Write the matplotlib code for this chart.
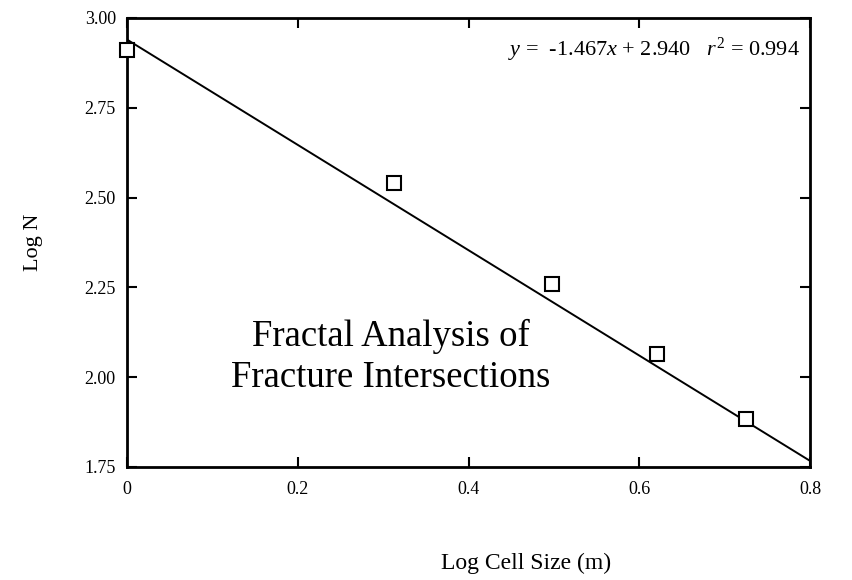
import matplotlib
matplotlib.use("Agg")
import matplotlib.pyplot as plt
import numpy as np

# Box-counting data: log cell size vs log count
log_cell_size = [0.0, 0.313, 0.498, 0.621, 0.725]
log_n = [2.91, 2.54, 2.26, 2.063, 1.883]

# Least-squares fit reported on the chart
slope = -1.467
intercept = 2.940
r_squared = 0.994

x_ticks = [0, 0.2, 0.4, 0.6, 0.8]
x_tick_labels = ["0", "0.2", "0.4", "0.6", "0.8"]
y_ticks = [1.75, 2.00, 2.25, 2.50, 2.75, 3.00]
y_tick_labels = ["1.75", "2.00", "2.25", "2.50", "2.75", "3.00"]

plt.rcParams["font.family"] = ["Liberation Serif", "DejaVu Serif"]
plt.rcParams["mathtext.fontset"] = "custom"
plt.rcParams["mathtext.rm"] = "Liberation Serif"
plt.rcParams["mathtext.it"] = "Liberation Serif:italic"

fig = plt.figure(figsize=(8.52, 5.80), dpi=100)
ax = fig.add_axes([0.149, 0.195, 0.802, 0.774])

ax.set_xlim(0, 0.8)
ax.set_ylim(1.75, 3.00)

fit_x = np.array([0.0, 0.8])
ax.plot(fit_x, slope * fit_x + intercept, color="black", lw=1.4, zorder=2)
ax.plot(log_cell_size, log_n, linestyle="none", marker="s", markersize=10,
        markerfacecolor="white", markeredgecolor="black", markeredgewidth=1.5,
        clip_on=False, zorder=3)

ax.set_xticks(x_ticks)
ax.set_xticklabels(x_tick_labels)
ax.set_yticks(y_ticks)
ax.set_yticklabels(y_tick_labels)
ax.tick_params(direction="in", length=7, width=1.5, top=True, right=True,
               labelsize=13, pad=10)
ax.tick_params(axis="y", pad=8)
for side in ax.spines.values():
    side.set_linewidth(2)

ax.set_xlabel("Log Cell Size (m)", fontsize=17, va="center")
ax.xaxis.set_label_coords(0.584, -0.215)
ax.set_ylabel("Log N", fontsize=16, labelpad=30)

ax.text(0.985, 0.929,
        "$y$ =  %.3f$x$ + %.3f   $r^2$ = %.3f" % (slope, intercept, r_squared),
        transform=ax.transAxes, ha="right", va="center", fontsize=16)
ax.text(0.386, 0.245, "Fractal Analysis of\nFracture Intersections",
        transform=ax.transAxes, ha="center", va="center", fontsize=26.5,
        linespacing=1.25)

fig.savefig("out.png", dpi=100, facecolor="white")
